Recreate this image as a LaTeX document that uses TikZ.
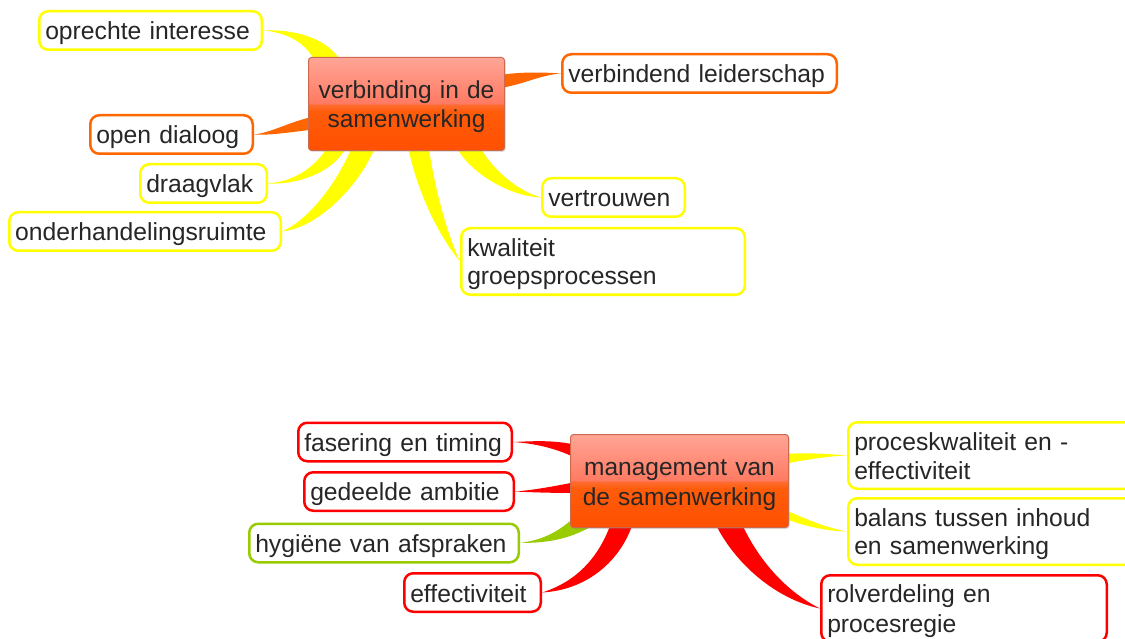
\documentclass[tikz,border=0pt]{standalone}
\usepackage{fontspec}
\setmainfont{Liberation Sans}
\usetikzlibrary{calc,shadows}

\definecolor{lyel}{HTML}{FFFF00}
\definecolor{lora}{HTML}{FF6600}
\definecolor{lred}{HTML}{FF0000}
\definecolor{lgrn}{HTML}{99CC00}
\definecolor{ink}{HTML}{262626}
\definecolor{hubline}{HTML}{CC6A4E}
\definecolor{hubA}{HTML}{FF5000}
\definecolor{hubB}{HTML}{FF5C0A}
\definecolor{hubC}{HTML}{FF6C32}
\definecolor{hubD}{HTML}{FF7A62}
\definecolor{hubE}{HTML}{FFA596}

% glossy fill of the two central topics
\pgfdeclareverticalshading{gloss}{100bp}{color(0bp)=(hubA); color(25bp)=(hubA); color(46bp)=(hubB); color(49.6bp)=(hubC); color(50.4bp)=(hubD); color(75bp)=(hubE); color(100bp)=(hubE)}

\pgfdeclarelayer{bg}
\pgfsetlayers{bg,main}

% line strut: 28pt line, 4.5pt depth
\newcommand\ls{\rule[-4.5pt]{0pt}{28pt}}
% tapered branch: colour, hub, two hub-side offsets, controls of side A, controls of side B, leaf anchor
\newcommand\branch[9]{\fill[#1] ($(#2)+(#3)$) .. controls (#5) and (#6) .. (#9) .. controls (#7) and (#8) .. ($(#2)+(#4)$) -- cycle;}

\tikzset{
  leaf/.style={draw=#1, line width=2.5pt, rounded corners=9pt, fill=white, text=ink,
    align=left, inner xsep=6pt, inner ysep=0pt, minimum height=38.5pt,
    font=\fontsize{24.7pt}{28pt}\selectfont},
  tall/.style={minimum height=66.5pt},
  hub/.style={draw=hubline, line width=1pt, rounded corners=3pt, shading=gloss, text=ink,
    align=center, inner sep=0pt, minimum height=93pt,
    font=\fontsize{24.5pt}{28pt}\selectfont,
    drop shadow={opacity=0.25, shadow xshift=1pt, shadow yshift=-1.5pt}},
}

\begin{document}
\begin{tikzpicture}[x=1pt, y=-1pt]
\useasboundingbox (0,0) rectangle (1125,639);
\clip (0,0) rectangle (1125,639);

% central topics
\node[hub, minimum width=196pt, text width=190pt] (v) at (406.5,104)
  {\ls verbinding in de\hspace*{6pt}\\\ls samenwerking};
\node[hub, minimum width=218pt, text width=212pt] (m) at (679.5,481)
  {\ls management van\hspace*{7pt}\\\ls de samenwerking};

% subtopics of the upper topic
\node[leaf=lyel, text width=210.5pt] (oi) at (150.5,30.5) {\ls oprechte interesse};
\node[leaf=lora, text width=150.5pt] (od) at (171.5,134.5) {\ls open dialoog};
\node[leaf=lyel, text width=114.5pt] (dv) at (203.5,183.5) {\ls draagvlak};
\node[leaf=lyel, text width=259.5pt] (ohr) at (145,231.5) {\ls onderhandelingsruimte};
\node[leaf=lora, text width=262.5pt] (vl) at (699.5,73.5) {\ls verbindend leiderschap};
\node[leaf=lyel, text width=130.5pt] (vt) at (613.5,197.5) {\ls vertrouwen};
\node[leaf=lyel, tall, text width=271.5pt] (kg) at (603,261.5) {\ls kwaliteit\\\ls groepsprocessen};

% subtopics of the lower topic
\node[leaf=lred, text width=201.5pt] (ft) at (405,442) {\ls fasering en timing};
\node[leaf=lred, text width=197.5pt] (ga) at (409,491.5) {\ls gedeelde ambitie};
\node[leaf=lgrn, text width=257.5pt] (hy) at (384,543) {\ls hygiëne van afspraken};
\node[leaf=lred, text width=124.5pt] (ef) at (472.5,592.5) {\ls effectiviteit};
\node[leaf=lyel, tall, text width=275.5pt] (pk) at (992,455.5) {\ls proceskwaliteit en -\\\ls effectiviteit};
\node[leaf=lyel, tall, text width=275.5pt] (bl) at (992,531.5) {\ls balans tussen inhoud\\\ls en samenwerking};
\node[leaf=lred, tall, text width=273.5pt] (rv) at (964,608.5) {\ls rolverdeling en\\\ls procesregie};

\begin{pgfonlayer}{bg}
\fill[white] (0,0) rectangle (1125,639);
% branches of the upper topic
\branch{lyel}{v}{-66.5,-44}{-88.5,-37}{326,37}{292,29}{292,33}{309,46}{oi.east}
\branch{lora}{v}{-92.5,12.5}{-92.5,25.5}{290,121.5}{272,132.5}{272,135.5}{290,132}{od.east}
\branch{lyel}{v}{-75.5,37}{-61.5,45}{319,164}{298,181}{298,185}{333,172}{dv.east}
\branch{lyel}{v}{-52.5,38}{-32.5,46}{339,181}{309,220}{316,228}{356,190}{ohr.east}
\branch{lyel}{v}{1.5,43}{21.5,39}{416,186}{435,231}{445,229}{434,184}{kg.west}
\branch{lyel}{v}{51.5,46}{69.5,36}{472,173}{508,196}{512,189}{487,163}{vt.west}
\branch{lora}{v}{93.5,-29}{93.5,-16}{520,72}{540,72}{540,75}{522,85}{vl.west}
% branches of the lower topic
\branch{lred}{m}{-103.5,-36}{-103.5,-23}{555,440}{535,441}{535,443.5}{555,448}{ft.east}
\branch{lred}{m}{-103.5,1}{-103.5,12}{555,486}{535,490}{535,492.5}{555,493}{ga.east}
\branch{lgrn}{m}{-101.5,33}{-87.5,45}{560,531}{545,539.5}{545,543}{568,540}{hy.east}
\branch{lred}{m}{-66.5,36}{-46.5,42}{603,550}{582,580}{588,590}{621,560}{ef.east}
\branch{lred}{m}{36.5,44}{58.5,34}{735,563}{775,599}{785,591}{755,557}{rv.west}
\branch{lyel}{m}{103.5,-27}{103.5,-17}{810,452.5}{830,454}{830,456}{810,459}{pk.west}
\branch{lyel}{m}{103.5,28}{103.5,37}{806,519}{825,527.5}{825,531}{804,526}{bl.west}
\end{pgfonlayer}
\end{tikzpicture}
\end{document}
